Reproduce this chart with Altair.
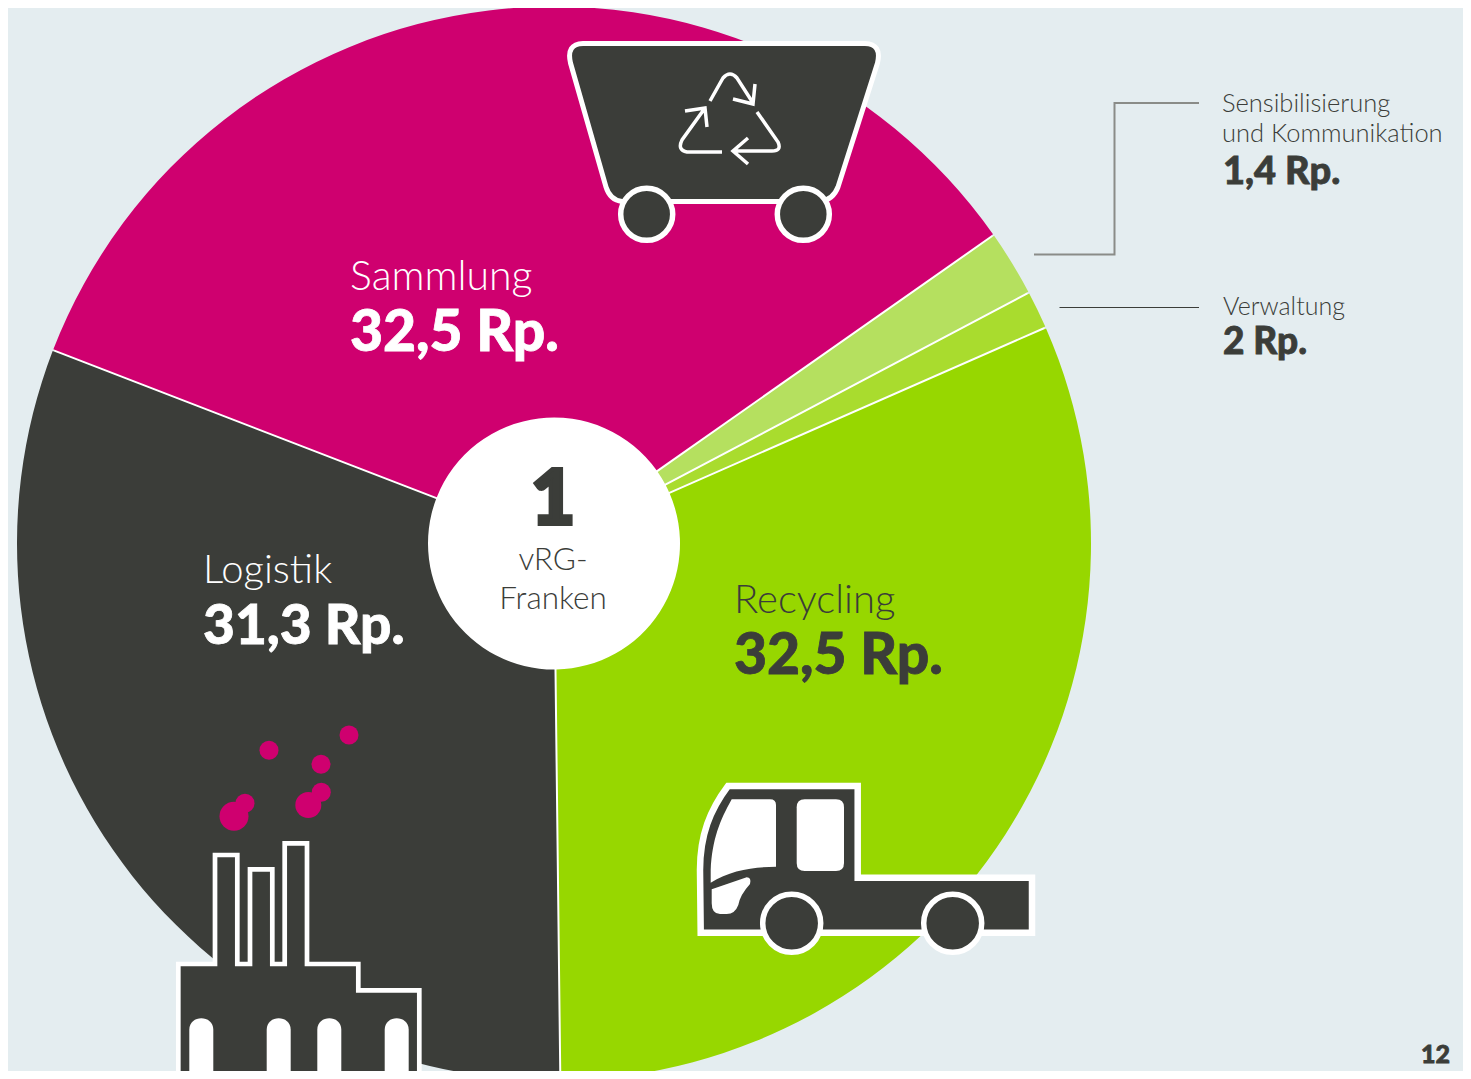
import altair as alt
import pandas as pd

BG = "#e4edf0"
DARK = "#3b3d39"
MAGENTA = "#cf006f"
GREEN = "#97d700"

# Share of the circle as drawn in the picture (percent of 360 degrees)
segments = ["Sammlung", "Sensibilisierung", "Verwaltung", "Recycling", "Logistik"]
drawn_share = [34.4, 2.0, 1.15, 31.4, 31.05]
seg_colors = [MAGENTA, "#b5e05f", "#a9dc2e", GREEN, DARK]

text_light = ["Sammlung", "Logistik", "Recycling", "vRG-", "Franken",
              "Sensibilisierung", "und Kommunikation", "Verwaltung"]
light_x = [350, 203, 734, 553, 553, 1222, 1222, 1223]
light_y = [290, 583, 613, 570, 609, 112, 142, 315]
light_size = [41, 40, 40, 31.5, 31.5, 25.5, 25.5, 25]
light_color = ["#ffffff", "#ffffff", DARK, DARK, DARK, DARK, DARK, DARK]
light_align = ["left", "left", "left", "center", "center", "left", "left", "left"]

text_bold = ["32,5 Rp.", "31,3 Rp.", "32,5 Rp.", "1,4 Rp.", "2 Rp.", "12"]
bold_x = [350, 203, 734, 1223, 1223, 1421]
bold_y = [351, 644, 674, 184, 354, 1063]
bold_size = [57, 55, 57, 38, 37, 25]
bold_color = ["#ffffff", "#ffffff", DARK, DARK, DARK, DARK]
bold_align = ["left"] * 6

big_text = ["1"]
big_x = [553]
big_y = [524]
big_size = [76]
big_color = [DARK]
big_align = ["center"]

leader1_x = [1034, 1114.5, 1114.5, 1199]
leader1_y = [254.5, 254.5, 103, 103]
leader2_x = [1059.5, 1199]
leader2_y = [307.5, 307.5]

smoke_x = [349, 269, 321, 321.3, 308.3, 245, 234]
smoke_y = [735, 750.3, 764.3, 792.3, 805, 803.3, 816.3]
smoke_d = [19, 19, 19, 19, 26, 19, 29]

wheel_x = [646.7, 803.3, 791.7, 952.7]
wheel_y = [214.3, 214.3, 923.3, 923.3]
wheel_d = [52, 52, 58, 58]

window_x = [189.3, 266.7, 317.3, 384.7]
window_y = [1072.3, 1072.3, 1072.3, 1072.3]

BIN = ("M583 43.5L865 43.5Q882 44 877.5 63L838 187Q833 200 820 201.5L622 201.5"
       "Q610 200 606 187L570.5 63Q566 44 583 43.5Z")
RECYCLE = ("M710 101L723 78Q730 70 737 78L753 103M733 99L753 104L755 84"
           "M722 152L687 152Q677 150 682 140L705 108M685 111L705 108L707 127"
           "M757 112L778 142Q782 151 772 151L733 151M748 138L733 151L748 164")
TRUCK = ("M728 786L857.7 786L857.7 877.7L1032 877.7L1032 932.7L700.7 932.7"
         "L700 870C700 835 710 810 728 786Z")
WINDSCREEN = ("M731.7 799.3L770 799.3Q776 799.3 776 805L776 866.7C755 867 730 870 710.7 882.7"
              "L710.7 870C712 840 720 820 731.7 799.3Z")
SIDE_WINDOW = ("M804.7 799.3L836 799.3Q844 799.3 844 807.3L844 863Q844 871 836 871"
               "L804.7 871Q796.7 871 796.7 863L796.7 807.3Q796.7 799.3 804.7 799.3Z")
HEADLIGHT = ("M711.7 889.3L746.7 877.3Q751.7 877.3 750 884Q740 895 738.3 905Q735 914 726.7 914"
             "L720 914Q711.7 914 711.7 903.3Z")
FACTORY = ("M178.3 1095L178.3 964L215 964L215 855L237.3 855L237.3 964L250 964L250 869.3"
           "L272.3 869.3L272.3 964L284.7 964L284.7 843.3L307 843.3L307 964L358.3 964"
           "L358.3 990.3L419.3 990.3L419.3 1095Z")
# one arched window, relative to its lower-left corner
WINDOW = "M0 0L0 -42.6C0 -58 24 -58 24 -42.6L24 0Z"

W, H = 1455, 1063
xs = alt.Scale(domain=[8, 8 + W], range=[0, W])
ys = alt.Scale(domain=[8, 8 + H], range=[0, H])
X = alt.X("x:Q", scale=xs, axis=None)
Y = alt.Y("y:Q", scale=ys, axis=None)

CX, CY = 546, 535.5
START = 5.0807
TAU = 6.28319

disc = alt.Chart(pd.DataFrame({"x": [554], "y": [543.5]})).mark_point(
    filled=True, shape="circle", size=(2 * 535.5) ** 2, fill="#ffffff", opacity=1, strokeWidth=0
).encode(x=X, y=Y)

pie_df = pd.DataFrame({"segment": segments, "share": drawn_share, "colour": seg_colors,
                       "rank": range(len(segments))})
pie = alt.Chart(pie_df).mark_arc(innerRadius=126, outerRadius=537, padAngle=0.0036).encode(
    theta=alt.Theta("share:Q", stack=True, scale=alt.Scale(domain=[0, 100], range=[START, START + TAU])),
    order=alt.Order("rank:O"),
    color=alt.Color("colour:N", scale=None),
    x=alt.value(CX), y=alt.value(CY),
)


def leader(xv, yv, colour, width):
    df = pd.DataFrame({"x": xv, "y": yv, "o": range(len(xv))})
    return alt.Chart(df).mark_line(color=colour, strokeWidth=width).encode(
        x=X, y=Y, order="o:O")


def icon(path, fill=None, stroke=None, sw=0, xv=(0,), yv=(0,)):
    kw = {"filled": fill is not None, "shape": path, "size": 4, "opacity": 1, "strokeWidth": sw}
    if fill is not None:
        kw["fill"] = fill
    kw["stroke"] = stroke if stroke is not None else "transparent"
    return alt.Chart(pd.DataFrame({"x": list(xv), "y": list(yv)})).mark_point(**kw).encode(x=X, y=Y)


def dots(xv, yv, dv, fill, stroke=None, sw=0):
    df = pd.DataFrame({"x": xv, "y": yv, "s": [d * d for d in dv]})
    kw = {"filled": True, "shape": "circle", "fill": fill, "opacity": 1, "strokeWidth": sw}
    kw["stroke"] = stroke if stroke is not None else "transparent"
    return alt.Chart(df).mark_point(**kw).encode(x=X, y=Y, size=alt.Size("s:Q", scale=None))


def texts(labels, xv, yv, sizes, colours, aligns, weight, thick=0):
    df = pd.DataFrame({"t": labels, "x": xv, "y": yv, "s": sizes, "c": colours, "a": aligns})
    layers = []
    for a in ["left", "center"]:
        part = df[df["a"] == a]
        if len(part):
            enc = dict(x=X, y=Y, text="t:N", size=alt.Size("s:Q", scale=None),
                       color=alt.Color("c:N", scale=None))
            if thick:
                enc["stroke"] = alt.Stroke("c:N", scale=None)
            layers.append(alt.Chart(part).mark_text(
                font="Lato", fontWeight=weight, align=a, baseline="alphabetic", strokeWidth=thick
            ).encode(**enc))
    return layers


layers = [
    disc, pie,
    leader(leader1_x, leader1_y, "#8a8c88", 2),
    leader(leader2_x, leader2_y, DARK, 1),
    icon(BIN, DARK, "#ffffff", 5),
    icon(RECYCLE, None, "#ffffff", 3.5),
    icon(TRUCK, DARK, "#ffffff", 6.5),
    icon(WINDSCREEN, "#ffffff"),
    icon(SIDE_WINDOW, "#ffffff"),
    icon(HEADLIGHT, "#ffffff"),
    icon(FACTORY, DARK, "#ffffff", 4.7),
    icon(WINDOW, "#ffffff", xv=window_x, yv=window_y),
    dots(smoke_x, smoke_y, smoke_d, MAGENTA),
    dots(wheel_x, wheel_y, wheel_d, DARK, "#ffffff", 5.5),
    *texts(text_light, light_x, light_y, light_size, light_color, light_align, 300),
    *texts(text_bold, bold_x, bold_y, bold_size, bold_color, bold_align, 900, thick=0.8),
    *texts(big_text, big_x, big_y, big_size, big_color, big_align, 900, thick=4),
]

chart = alt.layer(*layers).properties(
    width=W, height=H, padding=0, autosize="none", background=BG
).configure_view(strokeWidth=0)

chart.save("out.html", embed_options={"renderer": "svg", "actions": False})
